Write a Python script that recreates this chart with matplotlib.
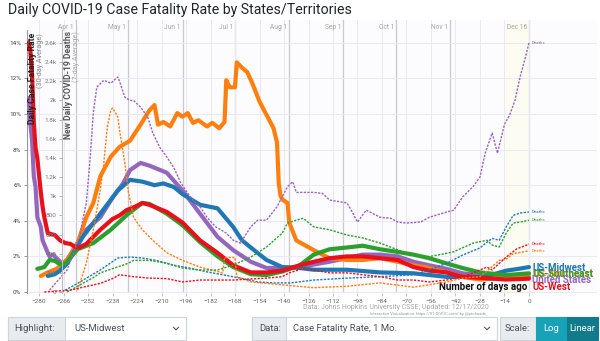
import matplotlib
matplotlib.use('Agg')
import matplotlib.pyplot as plt
from matplotlib.patches import Rectangle
from matplotlib.lines import Line2D
import matplotlib.transforms as mtransforms

plt.rcParams['font.family'] = ['Roboto', 'DejaVu Sans']

# ---------------- data ----------------
regions = ['US-Midwest', 'US-Northeast', 'US-Southeast', 'United States', 'US-West']
region_colors = ['#1f77b4', '#ff7f0e', '#2ca02c', '#9467bd', '#e8101a']

midwest_cfr_days = [-275, -271, -268, -264, -255, -245, -235, -228, -221, -214, -209, -203, -198, -188, -178, -169, -164, -159, -150, -141, -131, -123, -104, -85, -66, -47, -38, -28, -20, -13, -6, 0]
midwest_cfr = [0.9, 1.0, 1.2, 1.6, 3.1, 4.4, 5.7, 6.3, 6.2, 6.0, 6.1, 5.9, 5.5, 4.9, 4.7, 3.65, 2.9, 2.5, 1.8, 1.4, 1.35, 1.25, 1.25, 1.1, 1.05, 0.85, 0.85, 0.85, 1.0, 1.2, 1.3, 1.4]

northeast_cfr_days = [-279, -275, -270, -264, -258, -253, -249, -245, -239, -234, -228, -222, -217, -214, -212, -209, -205, -201, -198, -195, -192, -189, -184, -181, -177, -174, -173, -171, -168, -167, -164, -161, -158, -154, -150, -146, -144, -143, -142, -141, -138, -137, -133, -123, -114, -104, -95, -85, -75, -66, -57, -47, -38, -28, -13, 0]
northeast_cfr = [0.9, 1.1, 1.3, 1.8, 2.75, 4.2, 5.0, 6.5, 7.6, 8.15, 8.5, 9.4, 10.2, 10.5, 9.4, 9.55, 9.3, 10.05, 9.85, 10.05, 9.5, 9.65, 9.3, 9.5, 9.2, 9.55, 11.9, 11.5, 11.5, 12.9, 12.6, 12.35, 11.7, 10.7, 9.95, 9.2, 8.4, 6.1, 5.4, 5.2, 5.0, 3.9, 2.9, 2.35, 1.9, 1.8, 1.8, 1.9, 1.7, 1.5, 1.35, 1.1, 0.85, 0.7, 0.8, 1.0]

southeast_cfr_days = [-281, -277, -274, -271, -268, -265, -258, -249, -239, -229, -221, -217, -207, -198, -188, -178, -169, -159, -150, -141, -131, -123, -114, -104, -95, -85, -75, -66, -57, -47, -38, -28, -13, 0]
southeast_cfr = [1.3, 1.4, 1.8, 1.75, 1.55, 1.6, 2.4, 2.75, 3.5, 4.4, 5.0, 4.95, 4.4, 3.75, 2.8, 2.0, 1.4, 1.0, 0.95, 1.15, 1.5, 2.1, 2.4, 2.5, 2.6, 2.4, 2.25, 2.1, 1.9, 1.6, 1.35, 1.1, 0.95, 1.05]

us_cfr_days = [-286, -285, -284, -283, -282, -281, -279, -278, -275, -274, -272, -269, -267, -264, -258, -253, -245, -238, -232, -228, -222, -217, -207, -198, -188, -178, -169, -159, -150, -141, -131, -114, -95, -85, -75, -66, -57, -47, -38, -28, -13, 0]
us_cfr = [10.9, 9.5, 8.5, 6.5, 5.9, 4.2, 3.65, 2.9, 2.2, 2.0, 2.1, 1.8, 1.6, 1.8, 2.75, 3.5, 4.2, 5.3, 6.1, 6.85, 7.25, 7.1, 6.7, 5.7, 4.4, 3.1, 2.35, 1.7, 1.35, 1.35, 1.4, 1.7, 2.1, 2.1, 2.0, 1.7, 1.5, 1.3, 1.05, 0.95, 0.85, 0.85]

west_cfr_days = [-286, -285, -284, -283, -282, -281, -279, -278, -277, -275, -271, -268, -265, -262, -259, -257, -253, -245, -238, -234, -230, -226, -221, -217, -207, -198, -188, -178, -169, -159, -150, -141, -131, -123, -114, -104, -95, -85, -75, -66, -57, -47, -38, -28, -13, 0]
west_cfr = [14.0, 13.6, 12.2, 9.5, 8.1, 7.5, 5.6, 4.8, 4.2, 3.3, 3.2, 2.9, 2.75, 2.7, 2.5, 2.5, 2.7, 3.5, 4.1, 4.3, 4.6, 4.75, 5.0, 4.9, 4.5, 3.9, 2.9, 2.2, 1.5, 1.1, 1.1, 1.2, 1.5, 1.7, 1.9, 2.0, 2.0, 1.9, 1.8, 1.4, 1.2, 1.1, 0.85, 0.8, 0.7, 0.75]

midwest_deaths_days = [-267, -258, -245, -235, -228, -221, -213, -203, -194, -184, -175, -165, -155, -146, -136, -123, -104, -85, -66, -57, -47, -38, -28, -24, -21, -17, -13, -9, -5, 0]
midwest_deaths = [0, 90, 230, 355, 365, 355, 330, 280, 250, 210, 180, 145, 105, 95, 95, 125, 145, 160, 180, 230, 300, 385, 460, 520, 560, 540, 680, 800, 825, 835]

northeast_deaths_days = [-258, -253, -249, -245, -243, -241, -239, -238, -235, -234, -231, -229, -226, -221, -215, -207, -198, -188, -175, -174, -168, -167, -159, -141, -123, -104, -85, -66, -47, -38, -28, -22, -17, -13, -9, 0]
northeast_deaths = [20, 300, 650, 1065, 1350, 1720, 1900, 1920, 1830, 1690, 1350, 1050, 780, 650, 540, 410, 330, 260, 200, 360, 360, 160, 105, 75, 45, 60, 95, 50, 105, 145, 160, 250, 330, 345, 400, 430]

southeast_deaths_days = [-264, -249, -245, -229, -226, -217, -207, -198, -188, -178, -169, -159, -150, -141, -138, -133, -129, -123, -114, -104, -95, -85, -75, -66, -57, -51, -43, -32, -24, -21, -17, -13, -9, -5, 0]
southeast_deaths = [0, 150, 200, 300, 330, 330, 300, 250, 230, 230, 280, 365, 470, 615, 720, 750, 770, 680, 650, 595, 565, 510, 440, 385, 370, 390, 420, 510, 540, 490, 470, 615, 720, 730, 750]

us_deaths_days = [-274, -264, -257, -253, -251, -249, -247, -243, -239, -235, -234, -231, -228, -226, -222, -218, -215, -211, -207, -203, -199, -195, -192, -188, -184, -179, -173, -169, -165, -159, -155, -150, -144, -138, -135, -133, -123, -118, -114, -104, -101, -98, -93, -85, -79, -75, -70, -62, -57, -47, -43, -38, -32, -28, -25, -21, -18, -14, -11, -8, -5, -2, 0]
us_deaths = [20, 230, 575, 930, 1350, 1870, 2140, 2210, 2180, 2245, 2200, 2035, 2000, 2000, 1930, 1830, 1660, 1510, 1410, 1300, 1140, 1030, 960, 890, 780, 680, 615, 540, 510, 680, 750, 750, 890, 1100, 1150, 1040, 1040, 1030, 960, 930, 835, 730, 855, 780, 770, 730, 720, 730, 780, 835, 855, 990, 1100, 1200, 1450, 1660, 1450, 1750, 1850, 2000, 2250, 2450, 2600]

west_deaths_days = [-277, -262, -255, -245, -238, -234, -226, -217, -207, -198, -188, -169, -150, -141, -137, -130, -123, -114, -104, -95, -85, -75, -66, -57, -47, -38, -32, -24, -21, -13, -7, 0]
west_deaths = [0, 20, 50, 90, 140, 180, 160, 145, 140, 105, 125, 125, 145, 160, 200, 240, 230, 200, 200, 180, 160, 125, 125, 105, 125, 160, 200, 260, 230, 365, 450, 500]

x_ticks = list(range(-280, 1, 14))
cfr_ticks = [0, 2, 4, 6, 8, 10, 12, 14]
cfr_tick_labels = ['0%', '2%', '4%', '6%', '8%', '10%', '12%', '14%']
death_ticks = [0, 200, 400, 600, 800, 1000, 1200, 1400, 1600, 1800, 2000, 2200, 2400, 2600]
death_tick_labels = ['0', '200', '400', '600', '800', '1k', '1.2k', '1.4k', '1.6k', '1.8k', '2k', '2.2k', '2.4k', '2.6k']
month_labels = ['Apr 1', 'May 1', 'Jun 1', 'Jul 1', 'Aug 1', 'Sep 1', 'Oct 1', 'Nov 1', 'Dec 16']
month_days = [-259, -229, -198, -168, -137, -106, -76, -45, 0]

cfr_series = [(midwest_cfr_days, midwest_cfr), (northeast_cfr_days, northeast_cfr),
              (southeast_cfr_days, southeast_cfr), (us_cfr_days, us_cfr), (west_cfr_days, west_cfr)]
death_series = [(midwest_deaths_days, midwest_deaths), (northeast_deaths_days, northeast_deaths),
                (southeast_deaths_days, southeast_deaths), (us_deaths_days, us_deaths), (west_deaths_days, west_deaths)]

# ---------------- figure ----------------
W, H = 600, 341
fig = plt.figure(figsize=(W / 100, H / 100), dpi=100)
fig.patch.set_facecolor('white')

def fx(x):
    return x / W

def fy(y):
    return 1 - y / H

ax_l, ax_r, ax_t, ax_b = 27, 597, 20, 293
ax = fig.add_axes([fx(ax_l), fy(ax_b), (ax_r - ax_l) / W, (ax_b - ax_t) / H])
ax.set_facecolor('#fcfbfe')
ax.set_xlim(-286.9, 38.9)
ax.set_ylim(-0.056, 15.28)

ax2 = ax.twinx()
ax2.set_ylim(-10.4, 2840)

# background band + month lines + grid
ax.axvspan(-14, 0, color='#fcfcf2', zorder=0, lw=0)
ax.set_xticks(x_ticks)
ax.set_yticks(cfr_ticks)
ax.set_yticklabels(cfr_tick_labels)
ax.grid(True, color='#ece8f2', lw=0.7, zorder=0)
ax.set_axisbelow(True)
trans_top = mtransforms.blended_transform_factory(ax.transData, ax.transAxes)
for lab, d in zip(month_labels, month_days):
    ax.axvline(d, color='#c8c8ce', lw=0.9, zorder=0.5)
    ax.text(d - 1.2, 0.974, lab, transform=trans_top, ha='right', va='center',
            fontsize=4.8, color='#a4a4a4')

# CFR thick lines
order = [3, 1, 0, 2, 4]
for i in order:
    d, v = cfr_series[i]
    ax.plot(d, v, color=region_colors[i], lw=3.0, solid_capstyle='round',
            solid_joinstyle='round', zorder=3 + order.index(i))

# deaths dotted lines
for i in range(5):
    d, v = death_series[i]
    ax2.plot(d, v, color=region_colors[i], lw=1.0, ls=(0, (1.6, 1.0)), zorder=2)
    ax2.text(d[-1] + 1.8, v[-1], 'Deaths', color=region_colors[i], fontsize=3.2,
             ha='left', va='center')

# spines / ticks
for s in ['top', 'right', 'bottom']:
    ax.spines[s].set_visible(False)
    ax2.spines[s].set_visible(False)
ax.spines['left'].set_color('#999999')
ax.spines['left'].set_linewidth(0.8)
ax.spines['left'].set_bounds(-0.056, 14.7)
ax.tick_params(axis='y', labelsize=4.6, length=2.5, width=0.6, color='#888888',
               labelcolor='#444444', pad=1.5)
ax.tick_params(axis='x', labelsize=4.6, length=2, width=0.5, color='#aaaaaa',
               labelcolor='#666666', pad=2)

ax2.yaxis.tick_left()
ax2.spines['left'].set_visible(True)
ax2.spines['left'].set_position(('axes', (62 - ax_l) / (ax_r - ax_l)))
ax2.spines['left'].set_color('#bbbbbb')
ax2.spines['left'].set_linewidth(0.8)
ax2.spines['left'].set_bounds(-10.4, 2740)
ax2.set_yticks(death_ticks)
ax2.set_yticklabels(death_tick_labels)
ax2.tick_params(axis='y', labelsize=4.6, length=2.5, width=0.6, color='#aaaaaa',
                labelcolor='#777777', pad=1.5, right=False, labelright=False,
                left=True, labelleft=True)

# axis titles (inside the plot)
fig.text(fx(32.5), fy(33), 'Daily Case Fatality Rate', rotation=90, ha='center', va='top',
         fontsize=6.2, fontweight='bold', color='#222222')
fig.text(fx(40.5), fy(33), '(30-day Average)', rotation=90, ha='center', va='top',
         fontsize=5.2, color='#888888')
fig.text(fx(68.5), fy(31), 'New Daily COVID-19 Deaths', rotation=90, ha='center', va='top',
         fontsize=6.2, fontweight='bold', color='#555555')
fig.text(fx(76), fy(31), '(7-day Average)', rotation=90, ha='center', va='top',
         fontsize=5.2, color='#aaaaaa')

# region labels
label_y = [1.33, 0.99, 0.99, 0.67, 0.30]
label_dx = [0, 0.6, 0, 0, 0]
for i in [1, 2, 0, 3, 4]:
    ax.text(1.8 + label_dx[i], label_y[i], regions[i], color=region_colors[i], fontsize=7,
            fontweight='bold', ha='left', va='center', zorder=20)
ax.text(-1.0, 0.27, 'Number of days ago', fontsize=7, fontweight='bold', color='#111111',
        ha='right', va='center', zorder=20)

# title
fig.text(fx(8), fy(10), 'Daily COVID-19 Case Fatality Rate by States/Territories',
         fontsize=10.2, color='#212529', ha='left', va='center')

# footer
fig.text(fx(489), fy(307.5), 'Data: Johns Hopkins University CSSE; Updated: 12/17/2020',
         fontsize=5.0, color='#a8a8a8', ha='right', va='center')
fig.text(fx(488), fy(314), 'Interactive Visualization: https://91-DIVOC.com/ by @profwade_',
         fontsize=3.0, color='#999999', ha='right', va='center')

# controls
def box(x0, y0, x1, y1, fc, ec):
    fig.add_artist(Rectangle((fx(x0), fy(y1)), (x1 - x0) / W, (y1 - y0) / H,
                             transform=fig.transFigure, fc=fc, ec=ec, lw=0.8))

def chevron(cx, cy):
    fig.add_artist(Line2D([fx(cx - 2.5), fx(cx), fx(cx + 2.5)],
                          [fy(cy - 1.2), fy(cy + 1.3), fy(cy - 1.2)],
                          transform=fig.transFigure, color='#555555', lw=0.8))

cy = 328.5
box(8, 317, 186, 340, 'white', '#ced4da')
box(8, 317, 65, 340, '#e9ecef', '#ced4da')
fig.text(fx(14), fy(cy), 'Highlight:', fontsize=6.8, color='#495057', va='center')
fig.text(fx(74), fy(cy), 'US-Midwest', fontsize=6.8, color='#495057', va='center')
chevron(176, cy)

box(252, 317, 497, 340, 'white', '#ced4da')
box(252, 317, 286, 340, '#e9ecef', '#ced4da')
fig.text(fx(259), fy(cy), 'Data:', fontsize=6.8, color='#495057', va='center')
fig.text(fx(293), fy(cy), 'Case Fatality Rate, 1 Mo.', fontsize=6.8, color='#495057', va='center')
chevron(487, cy)

box(500, 317, 536, 340, '#e9ecef', '#ced4da')
fig.text(fx(505), fy(cy), 'Scale:', fontsize=6.8, color='#495057', va='center')
box(536, 317, 567, 340, '#17a2b8', '#17a2b8')
fig.text(fx(551.5), fy(cy), 'Log', fontsize=6.8, color='white', va='center', ha='center')
box(567, 317, 598, 340, '#117a8b', '#117a8b')
fig.text(fx(582.5), fy(cy), 'Linear', fontsize=6.8, color='white', va='center', ha='center')

fig.savefig('out.png', dpi=100)
